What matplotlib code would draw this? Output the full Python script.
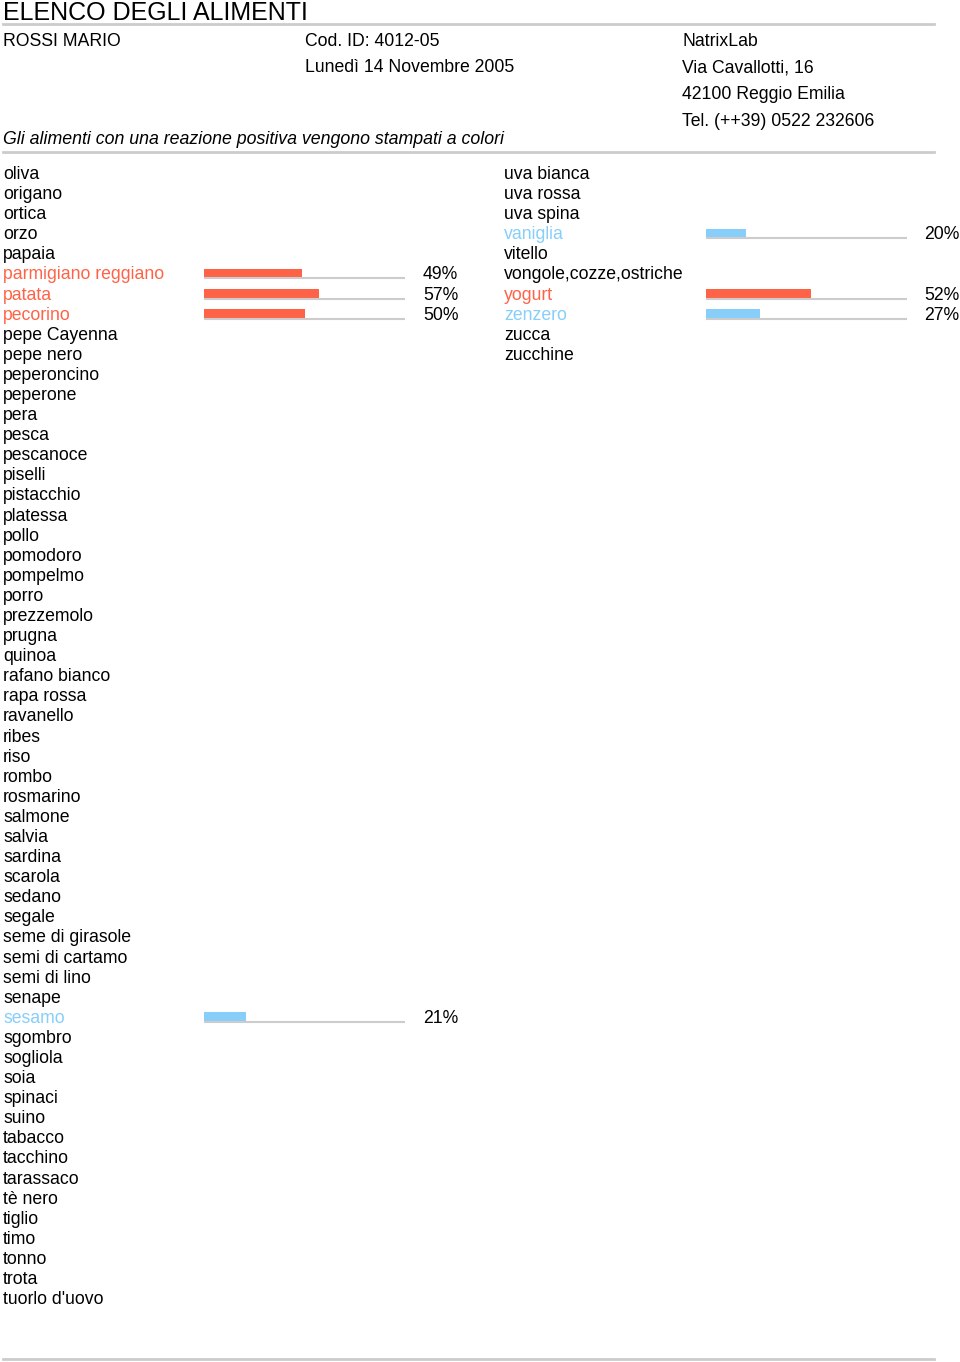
import matplotlib
matplotlib.use("Agg")
import matplotlib.pyplot as plt

plt.rcParams["font.family"] = ["Liberation Sans", "DejaVu Sans"]

# dati
titolo = "ELENCO DEGLI ALIMENTI"
paziente = "ROSSI MARIO"
codice = "Cod. ID: 4012-05"
data_esame = "Lunedì 14 Novembre 2005"
laboratorio = ["NatrixLab", "Via Cavallotti, 16", "42100 Reggio Emilia", "Tel. (++39) 0522 232606"]
nota = "Gli alimenti con una reazione positiva vengono stampati a colori"

alimenti_sx = [
    "oliva", "origano", "ortica", "orzo", "papaia", "parmigiano reggiano", "patata",
    "pecorino", "pepe Cayenna", "pepe nero", "peperoncino", "peperone", "pera", "pesca",
    "pescanoce", "piselli", "pistacchio", "platessa", "pollo", "pomodoro", "pompelmo",
    "porro", "prezzemolo", "prugna", "quinoa", "rafano bianco", "rapa rossa", "ravanello",
    "ribes", "riso", "rombo", "rosmarino", "salmone", "salvia", "sardina", "scarola",
    "sedano", "segale", "seme di girasole", "semi di cartamo", "semi di lino", "senape",
    "sesamo", "sgombro", "sogliola", "soia", "spinaci", "suino", "tabacco", "tacchino",
    "tarassaco", "tè nero", "tiglio", "timo", "tonno", "trota", "tuorlo d'uovo",
]
alimenti_dx = [
    "uva bianca", "uva rossa", "uva spina", "vaniglia", "vitello",
    "vongole,cozze,ostriche", "yogurt", "zenzero", "zucca", "zucchine",
]

# reazioni positive: alimento -> (percentuale, tipo)
reazioni = {
    "parmigiano reggiano": (49, "rosso"),
    "patata": (57, "rosso"),
    "pecorino": (50, "rosso"),
    "sesamo": (21, "blu"),
    "vaniglia": (20, "blu"),
    "yogurt": (52, "rosso"),
    "zenzero": (27, "blu"),
}

colori = {"rosso": "#FF6347", "blu": "#87CEFA"}
grigio = "#cccccc"

W, H = 960, 1362
fig = plt.figure(figsize=(W / 100, H / 100), dpi=100)
bg = fig.add_axes([0, 0, 1, 1])
bg.set_xlim(0, W)
bg.set_ylim(H, 0)
bg.axis("off")

fs = 12.7
# intestazione
bg.text(3, 20, titolo, fontsize=18, va="baseline")
bg.plot([3, 934], [24, 24], color=grigio, lw=2)
bg.text(3, 46, paziente, fontsize=fs, va="baseline")
bg.text(305, 46, codice, fontsize=fs, va="baseline")
bg.text(305, 72, data_esame, fontsize=fs, va="baseline")
for k, riga in enumerate(laboratorio):
    bg.text(682, 46 + 26.7 * k, riga, fontsize=fs, va="baseline")
bg.text(3, 144, nota, fontsize=12.8, style="italic", va="baseline")
bg.plot([3, 934], [152, 152], color=grigio, lw=2)
bg.plot([3, 934], [1359, 1359], color=grigio, lw=2)

y0, dy = 172.5, 20.09


def colonna(nomi, x_testo, x_barra, x_perc):
    ax = fig.add_axes([x_barra / W, 0, 201 / W, 1])
    ax.set_xlim(0, 100)
    ax.set_ylim(H, 0)
    ax.axis("off")
    for i, nome in enumerate(nomi):
        yc = y0 + dy * i
        if nome in reazioni:
            val, tipo = reazioni[nome]
            c = colori[tipo]
            ax.hlines(yc + 5.5, 0, 100, color=grigio, lw=1.5)
            ax.barh(yc + 0.8, val, height=9.5, color=c, left=0)
            bg.text(x_perc, yc + 6.5, f"{val}%", fontsize=fs, va="baseline")
        else:
            c = "black"
        bg.text(x_testo, yc + 6.5, nome, fontsize=fs, color=c, va="baseline")


colonna(alimenti_sx, 3, 204, 423)
colonna(alimenti_dx, 504, 706, 924)

fig.savefig("out.png", dpi=100)
